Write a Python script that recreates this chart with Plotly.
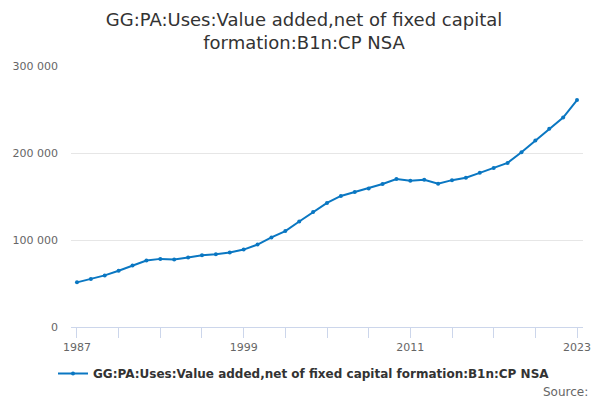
import plotly.graph_objects as go

# values (1987-2023)
years = list(range(1987, 2024))
values = [51300, 55100, 59300, 64600, 70700, 76400, 78300, 77600, 79800, 82500,
          83700, 85600, 89000, 94700, 103000, 110300, 121300, 132300, 142600, 150600,
          155100, 159300, 164300, 170000, 168100, 169200, 164600, 168800, 171500, 177200,
          182900, 188600, 200800, 214400, 227800, 240700, 260800]
series_name = "GG:PA:Uses:Value added,net of fixed capital formation:B1n:CP NSA"
y_ticks = [0, 100000, 200000, 300000]
x_ticks = [1987, 1999, 2011, 2023]

# page body has an 8px margin, so the figure is drawn 8px smaller than the window
W, H = 592, 392

fig = go.Figure()
fig.add_trace(go.Scatter(x=years, y=values, mode="lines+markers", name=series_name,
                         line={'color': '#0a77c2', 'width': 2},
                         marker={'size': 4, 'color': '#0a77c2'}))

fig.update_layout(
    width=W, height=H,
    margin={'l': 63, 'r': 17, 't': 58, 'b': 73},
    paper_bgcolor='white', plot_bgcolor='white',
    font={'family': 'DejaVu Sans', 'color': '#666666', 'size': 11},
    separators='. ',
    title={'text': "GG:PA:Uses:Value added,net of fixed capital<br>formation:B1n:CP NSA",
           'x': 0.5, 'xref': 'container', 'xanchor': 'center',
           'y': 1 - 18 / H, 'yref': 'container', 'yanchor': 'top',
           'pad': {'t': 0, 'b': 0},
           'font': {'size': 18, 'color': '#333333'}},
    showlegend=True,
    legend={'orientation': 'h', 'xref': 'container', 'x': 0.5, 'xanchor': 'center',
            'yref': 'container', 'y': 1 - 351 / H, 'yanchor': 'top', 'itemwidth': 30,
            'font': {'size': 12, 'color': '#333333', 'weight': 'bold'}},
    xaxis={'range': [1986.57, 2023.43], 'tickvals': x_ticks, 'ticks': 'outside',
           'ticklen': 10, 'tickcolor': '#ccd6eb', 'showline': True, 'linecolor': '#ccd6eb',
           'showgrid': False, 'zeroline': False, 'automargin': False,
           'minor': {'dtick': 3, 'tick0': 1987, 'ticks': 'outside', 'ticklen': 10,
                     'tickcolor': '#ccd6eb', 'showgrid': False}},
    yaxis={'range': [0, 300000], 'tickvals': y_ticks, 'tickformat': ',d',
           'showgrid': True, 'gridcolor': '#e6e6e6', 'zeroline': False,
           'automargin': False, 'ticks': '', 'ticklabelstandoff': 12},
)
fig.add_annotation(text="Source:", xref='paper', yref='paper',
                   x=1.0 + 7 / (W - 63 - 17), y=-(384 - 319) / (H - 58 - 73),
                   xanchor='right', yanchor='middle', showarrow=False,
                   font={'size': 12, 'color': '#666666'})

fig.write_html("out.html")
